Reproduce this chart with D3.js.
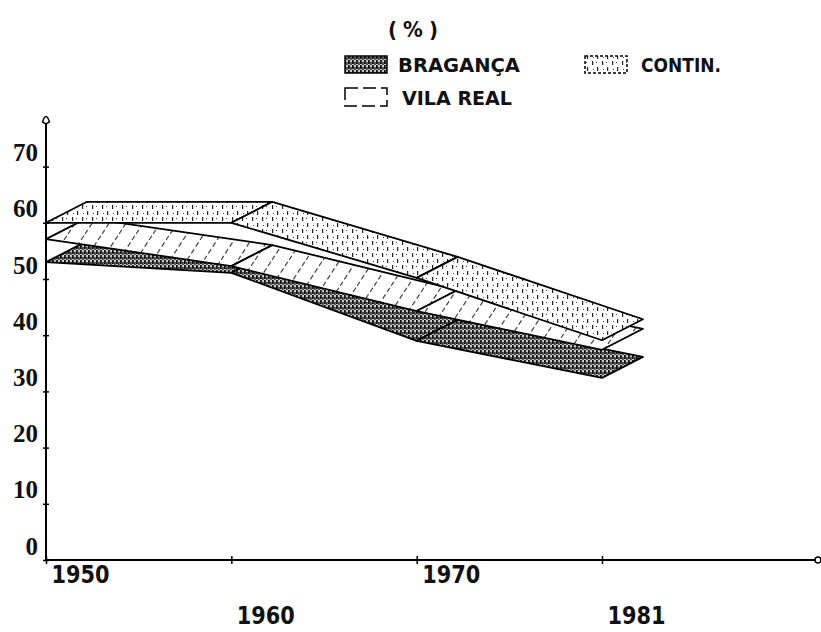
<!DOCTYPE html>
<html>
<head>
<meta charset="utf-8">
<script src="https://cdn.jsdelivr.net/npm/d3@7"></script>
<style>
  body { margin: 0; background: #fff; }
  svg { display: block; }
</style>
</head>
<body>
<svg id="chart" width="821" height="632"></svg>
<script>
// values (%)
const years = ["1950", "1960", "1970", "1981"];
const braganca = [53.0, 51.1, 39.0, 32.4];
const vilaReal = [57.1, 52.3, 44.3, 37.4];
const contin = [60.0, 60.0, 50.2, 39.1];
const yTicks = [0, 10, 20, 30, 40, 50, 60, 70];
const seriesNames = ["BRAGANÇA", "VILA REAL", "CONTIN."];

const svg = d3.select("#chart");
const depthX = 41, depthY = -21;   // 3D offset of the ribbons

const x = d3.scalePoint().domain(years).range([46, 602]);
const y = d3.scaleLinear().domain([0, 70]).range([560, 166.6]);

// fill patterns (old bitmap look)
const defs = svg.append("defs");
const pBra = defs.append("pattern").attr("id", "pBra")
  .attr("patternUnits", "userSpaceOnUse").attr("width", 4).attr("height", 5);
pBra.append("rect").attr("width", 4).attr("height", 5).attr("fill", "#c8c8c8");
pBra.append("rect").attr("x", 0).attr("y", 0).attr("width", 1.8).attr("height", 4).attr("fill", "#111");
pBra.append("rect").attr("x", 2.2).attr("y", 2).attr("width", 1.4).attr("height", 3).attr("fill", "#222");

const pVila = defs.append("pattern").attr("id", "pVila")
  .attr("patternUnits", "userSpaceOnUse").attr("width", 17).attr("height", 26);
pVila.append("rect").attr("width", 17).attr("height", 26).attr("fill", "#fff");
pVila.append("line").attr("x1", 0).attr("y1", 26).attr("x2", 17).attr("y2", 0)
  .attr("stroke", "#444").attr("stroke-width", 1.2).attr("stroke-dasharray", "5,3");

const pCont = defs.append("pattern").attr("id", "pCont")
  .attr("patternUnits", "userSpaceOnUse").attr("width", 10).attr("height", 12);
pCont.append("rect").attr("width", 10).attr("height", 12).attr("fill", "#fff");
pCont.append("rect").attr("x", 2).attr("y", 1).attr("width", 1.2).attr("height", 4).attr("fill", "#222");
pCont.append("rect").attr("x", 6).attr("y", 2).attr("width", 1).attr("height", 1).attr("fill", "#444");
pCont.append("rect").attr("x", 7).attr("y", 7).attr("width", 1.2).attr("height", 4).attr("fill", "#222");
pCont.append("rect").attr("x", 3).attr("y", 9).attr("width", 1).attr("height", 1).attr("fill", "#444");

const series = [
  { name: seriesNames[0], values: braganca, fill: "url(#pBra)" },
  { name: seriesNames[1], values: vilaReal, fill: "url(#pVila)" },
  { name: seriesNames[2], values: contin, fill: "url(#pCont)" }
];

// axes
const yAxis = svg.append("g").attr("transform", "translate(46,0)")
  .call(d3.axisLeft(y).tickValues(yTicks).tickSize(3).tickSizeOuter(0).tickPadding(8));
yAxis.select(".domain").remove();
yAxis.selectAll(".tick line").attr("x1", -3).attr("x2", 3).attr("stroke", "#000").attr("stroke-width", 1.5);
yAxis.selectAll(".tick text")
  .attr("x", -8).attr("dy", null).attr("y", -6)
  .style("font-family", "'Liberation Serif', 'DejaVu Serif', serif")
  .style("font-weight", "bold").style("font-size", "25px").attr("fill", "#111");

svg.append("line").attr("x1", 46).attr("x2", 46).attr("y1", y(0)).attr("y2", 122)
  .attr("stroke", "#000").attr("stroke-width", 2);
svg.append("path").attr("d", "M46,124 L42.5,122 Q46,111 49.5,122 Z")
  .attr("fill", "#fff").attr("stroke", "#000").attr("stroke-width", 1.5);

svg.append("line").attr("x1", 46).attr("x2", 815).attr("y1", y(0)).attr("y2", y(0))
  .attr("stroke", "#000").attr("stroke-width", 2);
svg.append("circle").attr("cx", 818).attr("cy", y(0)).attr("r", 3)
  .attr("fill", "#fff").attr("stroke", "#000").attr("stroke-width", 1.5);

const xAxis = svg.append("g").attr("transform", `translate(0,${y(0)})`)
  .call(d3.axisBottom(x).tickSize(4).tickSizeOuter(0));
xAxis.select(".domain").remove();
xAxis.selectAll(".tick line").attr("y1", -4).attr("y2", 4).attr("stroke", "#000").attr("stroke-width", 1.5);
xAxis.selectAll(".tick text")
  .attr("text-anchor", "start").attr("x", 5).attr("dy", null)
  .attr("y", (d, i) => i % 2 === 0 ? 23 : 64)
  .attr("textLength", 58).attr("lengthAdjust", "spacingAndGlyphs")
  .style("font-family", "'DejaVu Sans Condensed', 'Liberation Sans Narrow', sans-serif")
  .style("font-weight", "bold").style("font-size", "25px").attr("fill", "#111");

// ribbons, one quad per segment, back series first
const quad = (vals, i) => {
  const x0 = x(years[i]), x1 = x(years[i + 1]);
  const y0 = y(vals[i]), y1 = y(vals[i + 1]);
  return [[x0, y0], [x1, y1], [x1 + depthX, y1 + depthY], [x0 + depthX, y0 + depthY]];
};

series.forEach(s => {
  const g = svg.append("g");
  g.selectAll("polygon")
    .data(d3.range(years.length - 1))
    .enter()
    .append("polygon")
    .attr("points", i => quad(s.values, i).map(p => p.join(",")).join(" "))
    .attr("fill", s.fill)
    .attr("stroke", "#000")
    .attr("stroke-width", 1.8)
    .attr("stroke-linejoin", "round");
});

// legend
const legendFont = "'DejaVu Sans Condensed', 'Liberation Sans Narrow', sans-serif";
svg.append("text").attr("x", 388).attr("y", 37)
  .attr("textLength", 50).attr("lengthAdjust", "spacing")
  .style("font-family", legendFont).style("font-weight", "bold").style("font-size", "22px")
  .attr("fill", "#111").text("(%)");

const legendItems = [
  { x: 345, y: 56, h: 17, tx: 398, ty: 72, tl: 122, fill: "url(#pBra)", dash: null },
  { x: 345, y: 88, h: 18, tx: 402, ty: 105, tl: 110, fill: "#fff", dash: "13,5" },
  { x: 585, y: 56, h: 17, tx: 641, ty: 72, tl: 80, fill: "url(#pCont)", dash: "3,2" }
];
legendItems.forEach((d, i) => {
  svg.append("rect").attr("x", d.x).attr("y", d.y).attr("width", 42).attr("height", d.h)
    .attr("fill", d.fill).attr("stroke", "#000").attr("stroke-width", 1.5)
    .attr("stroke-dasharray", d.dash);
  svg.append("text").attr("x", d.tx).attr("y", d.ty)
    .attr("textLength", d.tl).attr("lengthAdjust", "spacingAndGlyphs")
    .style("font-family", legendFont).style("font-weight", "bold").style("font-size", "19px")
    .attr("fill", "#111").text(series[i].name);
});
</script>
</body>
</html>
